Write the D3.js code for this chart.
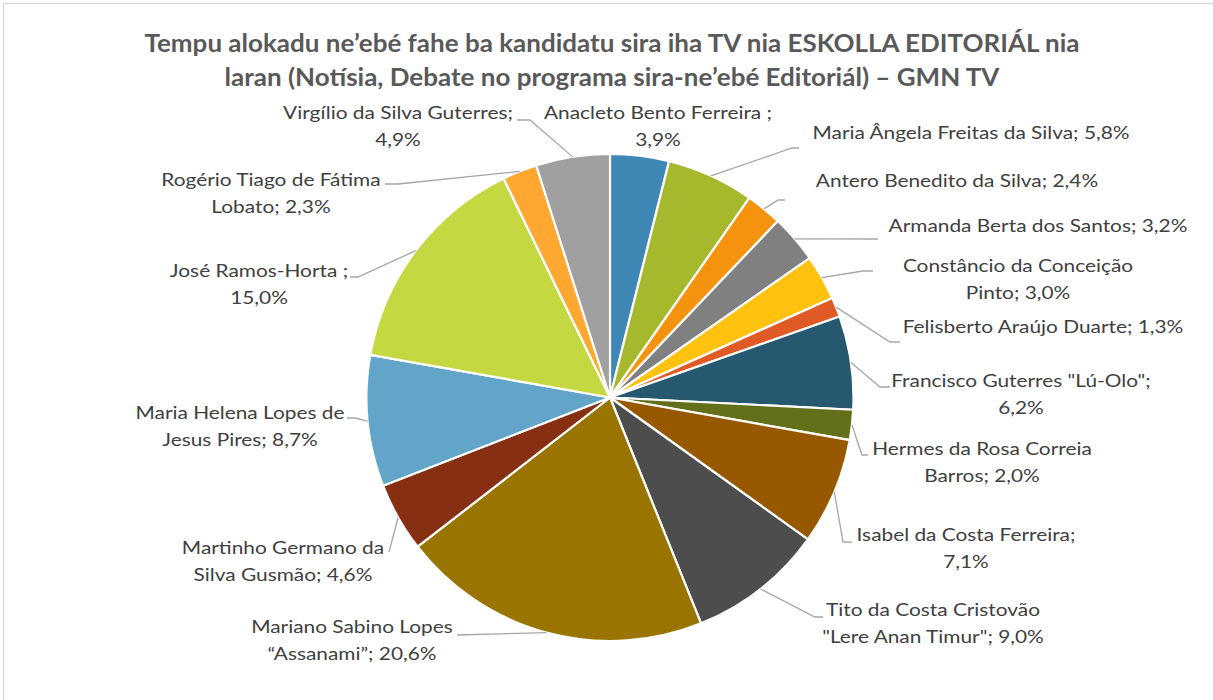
<!DOCTYPE html>
<html><head><meta charset="utf-8">
<script src="https://cdn.jsdelivr.net/npm/d3@7"></script>
<style>body{margin:0;background:#fff;overflow:hidden}</style>
</head><body>
<svg id="chart" width="1213" height="700"></svg>
<script>
// ---------- data ----------
const candidates = [
  "Anacleto Bento Ferreira ",
  "Maria Ângela Freitas da Silva",
  "Antero Benedito da Silva",
  "Armanda Berta dos Santos",
  "Constâncio da Conceição Pinto",
  "Felisberto Araújo Duarte",
  "Francisco Guterres \"Lú-Olo\"",
  "Hermes da Rosa Correia Barros",
  "Isabel da Costa Ferreira",
  "Tito da Costa Cristovão \"Lere Anan Timur\"",
  "Mariano Sabino Lopes “Assanami”",
  "Martinho Germano da Silva Gusmão",
  "Maria Helena Lopes de Jesus Pires",
  "José Ramos-Horta ",
  "Rogério Tiago de Fátima Lobato",
  "Virgílio da Silva Guterres"
];
const shares = [3.9, 5.8, 2.4, 3.2, 3.0, 1.3, 6.2, 2.0, 7.1, 9.0, 20.6, 4.6, 8.7, 15.0, 2.3, 4.9];
const titleLines = [
  "Tempu alokadu ne’ebé fahe ba kandidatu sira iha TV nia ESKOLLA EDITORIÁL nia",
  "laran (Notísia, Debate no programa sira-ne’ebé Editoriál) – GMN TV"
];

// ---------- styles / layout ----------
const colors = ["#3F88B5","#A6B82C","#F5930E","#808080","#FFC20E","#E05A26","#26586F","#636F19",
                "#975800","#4D4D4D","#997500","#862F13","#63A4C9","#C5D842","#FFA831","#A0A0A0"];
// words on first line (0 = single line), label centre x, first line centre y, leader elbow & end
const labelLayout = [
  {w:4, x:658,  y:113, leader:null},
  {w:0, x:971,  y:133, leader:[[792,148],[799,148]]},
  {w:0, x:957,  y:181, leader:[[778,200],[785,200]]},
  {w:0, x:1038, y:226, leader:[[878,239],[878,239]]},
  {w:3, x:1018, y:266, leader:[[863,271],[873,271]]},
  {w:0, x:1043, y:327, leader:[[890,342],[900,342]]},
  {w:3, x:1021, y:381, leader:[[880,387],[890,387]]},
  {w:4, x:982,  y:449, leader:[[862,455],[868,455]]},
  {w:4, x:966,  y:535, leader:[[843,542],[852,542]]},
  {w:4, x:933,  y:610, leader:[[815,617],[823,617]]},
  {w:3, x:352,  y:627, leader:[[457,635],[457,635]]},
  {w:3, x:283,  y:548, leader:[[389,552],[389,552]]},
  {w:4, x:240,  y:413, leader:[[355,418],[347,418]]},
  {w:3, x:259,  y:271, leader:[[358,277],[350,277]]},
  {w:4, x:271,  y:180, leader:[[398,184],[385,184]]},
  {w:4, x:398,  y:113, leader:[[530,120],[517,120]]}
];
const cx = 610, cy = 397.5, R = 243.5;
const labelFont = "Lato, 'Open Sans', sans-serif";
const labelSize = 18, lineGap = 26.5;

const svg = d3.select("#chart");
// outer frame
svg.append("rect").attr("x",3.5).attr("y",3.5).attr("width",1300).attr("height",800)
  .attr("fill","#fff").attr("stroke","#D9D9D9").attr("stroke-width",1.5);

// title
const title = svg.append("g");
const tl = title.selectAll("text").data(titleLines).join("text")
  .attr("x", 612).attr("y",(d,i)=>44 + i*34).attr("dy","0.35em")
  .attr("text-anchor","middle").attr("font-family","Lato, 'Open Sans', sans-serif")
  .attr("font-weight","bold").attr("font-size",24).attr("fill","#595959").text(d=>d);
const tf = 935 / tl.nodes()[0].getComputedTextLength();
tl.each(function(){ const L=this.getComputedTextLength(); d3.select(this).attr("textLength",L*tf).attr("lengthAdjust","spacingAndGlyphs"); });

// pie
const pie = d3.pie().sort(null).value(d=>d);
const arcs = pie(shares);
const arc = d3.arc().innerRadius(0).outerRadius(R);
const edge = d3.arc().innerRadius(R).outerRadius(R);
const g = svg.append("g").attr("transform",`translate(${cx},${cy})`);
g.selectAll("path").data(arcs).join("path")
  .attr("d",arc).attr("fill",(d,i)=>colors[i]).attr("stroke","#fff").attr("stroke-width",2.2)
  .attr("stroke-linejoin","round");

// leader lines
svg.append("g").selectAll("path").data(arcs.filter((d,i)=>labelLayout[i].leader))
  .join("path")
  .attr("d",d=>{
    const lay = labelLayout[d.index];
    const p = edge.centroid(d);
    return d3.line()([[cx+p[0],cy+p[1]], ...lay.leader]);
  })
  .attr("fill","none").attr("stroke","#A6A6A6").attr("stroke-width",1.3);

// labels
const fmt = v => d3.format(".1f")(v).replace(".",",") + "%";
const lg = svg.append("g").attr("font-family",labelFont).attr("font-size",labelSize).attr("fill","#404040");
// measure compression factor against reference string width
const probe = lg.append("text").text(candidates[1]+"; "+fmt(shares[1]));
const lf = 317 / probe.node().getComputedTextLength();
probe.remove();
candidates.forEach((name,i)=>{
  const lay = labelLayout[i];
  const words = (name + "; " + fmt(shares[i])).replace(/ +; /," ; ").split(" ");
  const lines = lay.w ? [words.slice(0,lay.w).join(" "), words.slice(lay.w).join(" ")] : [words.join(" ")];
  const t = lg.append("text").attr("text-anchor","middle");
  lines.forEach((ln,j)=>{
    const ts = t.append("tspan").attr("x",lay.x).attr("y",lay.y + j*lineGap).attr("dy","0.35em").text(ln);
    const L = ts.node().getComputedTextLength();
    ts.attr("textLength",L*lf).attr("lengthAdjust","spacingAndGlyphs");
  });
});
</script>
</body></html>
